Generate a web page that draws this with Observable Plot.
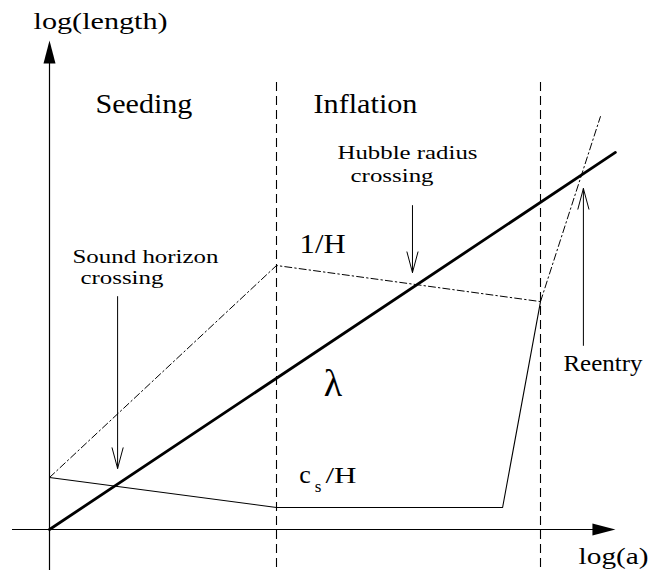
<!DOCTYPE html>
<html><head><meta charset="utf-8">
<script src="https://cdn.jsdelivr.net/npm/d3@7"></script>
<script src="https://cdn.jsdelivr.net/npm/@observablehq/plot@0.6"></script>
<style>body{margin:0;background:#fff} svg{display:block} svg text{font-family:"Liberation Serif","Times New Roman",serif}</style>
</head><body><div id="chart"></div>
<script>
// Schematic values in arbitrary log units (log a, log length)
const lambdaX = [0, 24.93];
const lambdaY = [0, 16.61];
const hubbleX = [0, 10, 21.63];
const hubbleY = [2.29, 11.63, 10.04];
const reentryX = [21.63, 24.27];
const reentryY = [10.04, 18.19];
const soundX = [0, 10, 19.96, 21.63];
const soundY = [2.29, 0.97, 0.97, 10.04];
const epochBounds = [10, 21.63];
const epochSpan = [-1.67, 19.91];
const xAxisSpan = [-1.63, 24.93];
const yAxisSpan = [-1.81, 21.54];
const arrowX = [3.0, 15.99, 23.52];
const arrowFrom = [10.26, 14.27, 8.11];
const arrowTo = [2.69, 11.32, 15.02];
const labelText = ["log(length)", "Seeding", "Inflation", "Hubble radius", "crossing", "Sound horizon", "crossing", "1/H", "\u03bb", "Reentry", "log(a)", "c", "s", "/H"];
const labelX = [2.25, 4.16, 13.92, 15.77, 15.09, 4.23, 3.19, 12.03, 12.49, 24.38, 24.85, 11.26, 11.83, 12.84];
const labelY = [22.03, 18.33, 18.33, 16.30, 15.33, 11.76, 10.80, 12.16, 5.90, 7.00, -1.50, 2.03, 1.63, 2.03];
const labelSize = [24, 27, 27, 19.5, 19.5, 19.5, 19.5, 28, 38, 23, 24, 26, 17, 24];

const pts = (xs, ys) => xs.map((x, i) => ({x, y: ys[i]}));
const labels = labelText.map((text, i) => ({text, x: labelX[i], y: labelY[i], size: labelSize[i]}));
const bounds = epochBounds.map(x => ({x, y1: epochSpan[0], y2: epochSpan[1]}));
const arrows = arrowX.map((x, i) => ({x, y1: arrowFrom[i], y2: arrowTo[i]}));
const arrowHead = {draw(ctx) { ctx.moveTo(0, 0); ctx.lineTo(6, 23); ctx.lineTo(-6, 23); ctx.closePath(); }};
const serif = "Liberation Serif";

const chart = Plot.plot({
  width: 660, height: 571, margin: 0,
  style: {background: "#fff", color: "#000"},
  x: {domain: [0, 10], range: [49, 276], axis: null},
  y: {domain: [0, 10], range: [529, 302], axis: null},
  marks: [
    Plot.ruleX(bounds, {x: "x", y1: "y1", y2: "y2", stroke: "#000", strokeWidth: 1.1, strokeDasharray: "9,5"}),
    Plot.ruleX([{x: 0, y1: yAxisSpan[0], y2: yAxisSpan[1] - 0.5}], {x: "x", y1: "y1", y2: "y2", stroke: "#000", strokeWidth: 1.2}),
    Plot.ruleY([{y: 0, x1: xAxisSpan[0], x2: xAxisSpan[1] - 0.5}], {y: "y", x1: "x1", x2: "x2", stroke: "#000", strokeWidth: 1.2}),
    Plot.dot([{x: 0, y: yAxisSpan[1]}], {x: "x", y: "y", symbol: arrowHead, fill: "#000", stroke: "none", r: 5}),
    Plot.dot([{x: xAxisSpan[1], y: 0}], {x: "x", y: "y", symbol: arrowHead, fill: "#000", stroke: "none", r: 5, rotate: 90}),
    Plot.line(pts(hubbleX, hubbleY), {x: "x", y: "y", stroke: "#000", strokeWidth: 1, strokeDasharray: "7,3,1.5,3"}),
    Plot.line(pts(reentryX, reentryY), {x: "x", y: "y", stroke: "#000", strokeWidth: 1, strokeDasharray: "7,3,1.5,3"}),
    Plot.line(pts(soundX, soundY), {x: "x", y: "y", stroke: "#000", strokeWidth: 1.1}),
    Plot.line(pts(lambdaX, lambdaY), {x: "x", y: "y", stroke: "#000", strokeWidth: 2.8}),
    Plot.arrow(arrows, {x1: "x", y1: "y1", x2: "x", y2: "y2", stroke: "#000", strokeWidth: 1, headLength: 32, headAngle: 30}),
    Plot.text(labels, {x: "x", y: "y", text: "text", fontSize: "size", fontFamily: serif, textAnchor: "middle", lineAnchor: "bottom", fill: "#000"})
  ]
});
const widths = {"log(length)": 134, "Seeding": 97, "Inflation": 104, "Hubble radius": 140, "crossing": 83, "Sound horizon": 146, "1/H": 46, "Reentry": 79, "log(a)": 70, "/H": 31};
chart.querySelectorAll("text").forEach(t => {
  t.setAttribute("font-family", serif);
  const w = widths[t.textContent];
  if (w) { t.setAttribute("textLength", w); t.setAttribute("lengthAdjust", "spacingAndGlyphs"); }
});
document.getElementById("chart").appendChild(chart);
</script>
</body></html>
